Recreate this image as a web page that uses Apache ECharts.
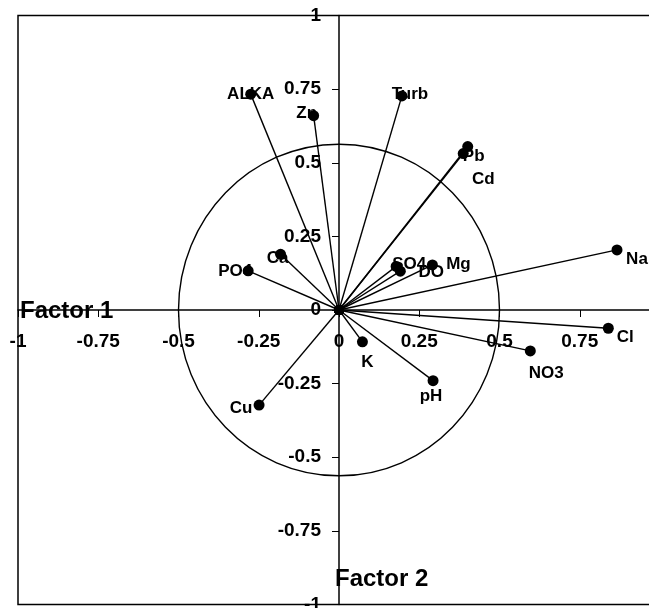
<!DOCTYPE html>
<html><head><meta charset="utf-8">
<script src="https://cdn.jsdelivr.net/npm/echarts@6/dist/echarts.min.js"></script>
<style>html,body{margin:0;padding:0;background:#fff}#c{width:649px;height:608px}</style>
</head><body><div id="c"></div>
<script>
// Variables (loadings) on Factor 1 / Factor 2
const variables = ['ALKA','Zn','Turb','Pb','Cd','Na','Cl','NO3','K','pH','Cu','PO4','Ca','SO4','DO','Mg'];
const factor1 = [-0.275,-0.079,0.196,0.401,0.387,0.866,0.839,0.596,0.073,0.293,-0.249,-0.283,-0.182,0.178,0.191,0.291];
const factor2 = [0.733,0.660,0.727,0.555,0.531,0.204,-0.062,-0.139,-0.108,-0.240,-0.323,0.133,0.189,0.148,0.132,0.153];
// Reference circle radii (factor units)
const circleRadius = [0.5, 0.563];
// Axis range and tick step
const axisMin = -1, axisMax = 1, axisStep = 0.25;
// Label offsets in pixels (styling only)
const labelOffsets = [[0,0],[-7,-2],[8,-2],[6,10],[20,26],[20,9],[17,9],[16,22],[5,21],[-2,16],[-18,3],[-13,0],[-3,4],[13,-2],[31,1],[26,-1]];

const FONT = '"Liberation Sans", Arial, Helvetica, sans-serif';
const GRID = {left:18, top:15.5, width:642, height:589};
const chart = echarts.init(document.getElementById('c'), null, {renderer:'canvas'});
const points = variables.map((n,i)=>({name:n, value:[factor1[i], factor2[i]]}));

function makeAxis(margin, offset){
  return {
    type:'value', min:axisMin, max:axisMax, interval:axisStep, offset:offset,
    axisLine:{show:true, onZero:false, lineStyle:{color:'#000', width:1.5}},
    axisTick:{show:true, inside:false, length:7, lineStyle:{color:'#000', width:1}},
    splitLine:{show:false},
    axisLabel:{show:true, margin:margin, color:'#000', fontFamily:FONT, fontWeight:'bold', fontSize:19}
  };
}

const option = {
  animation:false,
  backgroundColor:'#fff',
  grid:Object.assign({show:true, borderColor:'#000', borderWidth:1.5, backgroundColor:'transparent',
        containLabel:false, outerBoundsMode:'none'}, GRID),
  xAxis: makeAxis(22, -GRID.height/2),
  yAxis: makeAxis(18, -GRID.width/2),
  graphic:[
    {type:'text', x:20, y:311, z:100, style:{text:'Factor 1', fill:'#000', fontFamily:FONT, fontWeight:'bold', fontSize:24, align:'left', verticalAlign:'middle'}},
    {type:'text', x:335, y:579, z:100, style:{text:'Factor 2', fill:'#000', fontFamily:FONT, fontWeight:'bold', fontSize:24, align:'left', verticalAlign:'middle'}}
  ],
  series:[
    {
      type:'custom', z:2, silent:true,
      data:[[0,0]],
      renderItem:(params, api)=>{
        const c = api.coord([0,0]);
        const rx = api.size([circleRadius[0],0])[0];
        const ry = api.size([0,circleRadius[1]])[1];
        return {type:'ellipse', shape:{cx:c[0], cy:c[1], rx:rx, ry:ry}, style:{fill:null, stroke:'#000', lineWidth:1.4}};
      }
    },
    {
      type:'scatter', z:3, silent:true,
      symbolSize:0.1, itemStyle:{color:'#000', opacity:0},
      data: points.map((p,i)=>({name:p.name, value:p.value, label:{offset:labelOffsets[i]}})),
      label:{show:true, position:'inside', formatter:'{b}', color:'#000', opacity:1, textBorderWidth:0, textBorderColor:'transparent',
             fontFamily:FONT, fontWeight:'bold', fontSize:17, align:'center', verticalAlign:'middle'}
    },
    {
      type:'custom', z:4, silent:true,
      data: points.map(p=>p.value),
      renderItem:(params, api)=>{
        const o = api.coord([0,0]);
        const p = api.coord([api.value(0), api.value(1)]);
        return {type:'group', children:[
          {type:'line', shape:{x1:o[0], y1:o[1], x2:p[0], y2:p[1]}, style:{stroke:'#000', lineWidth:1.4}},
          {type:'circle', shape:{cx:o[0], cy:o[1], r:5}, style:{fill:'#000'}},
          {type:'circle', shape:{cx:p[0], cy:p[1], r:5.5}, style:{fill:'#000'}}
        ]};
      }
    }
  ]
};
chart.setOption(option);
</script>
</body></html>
